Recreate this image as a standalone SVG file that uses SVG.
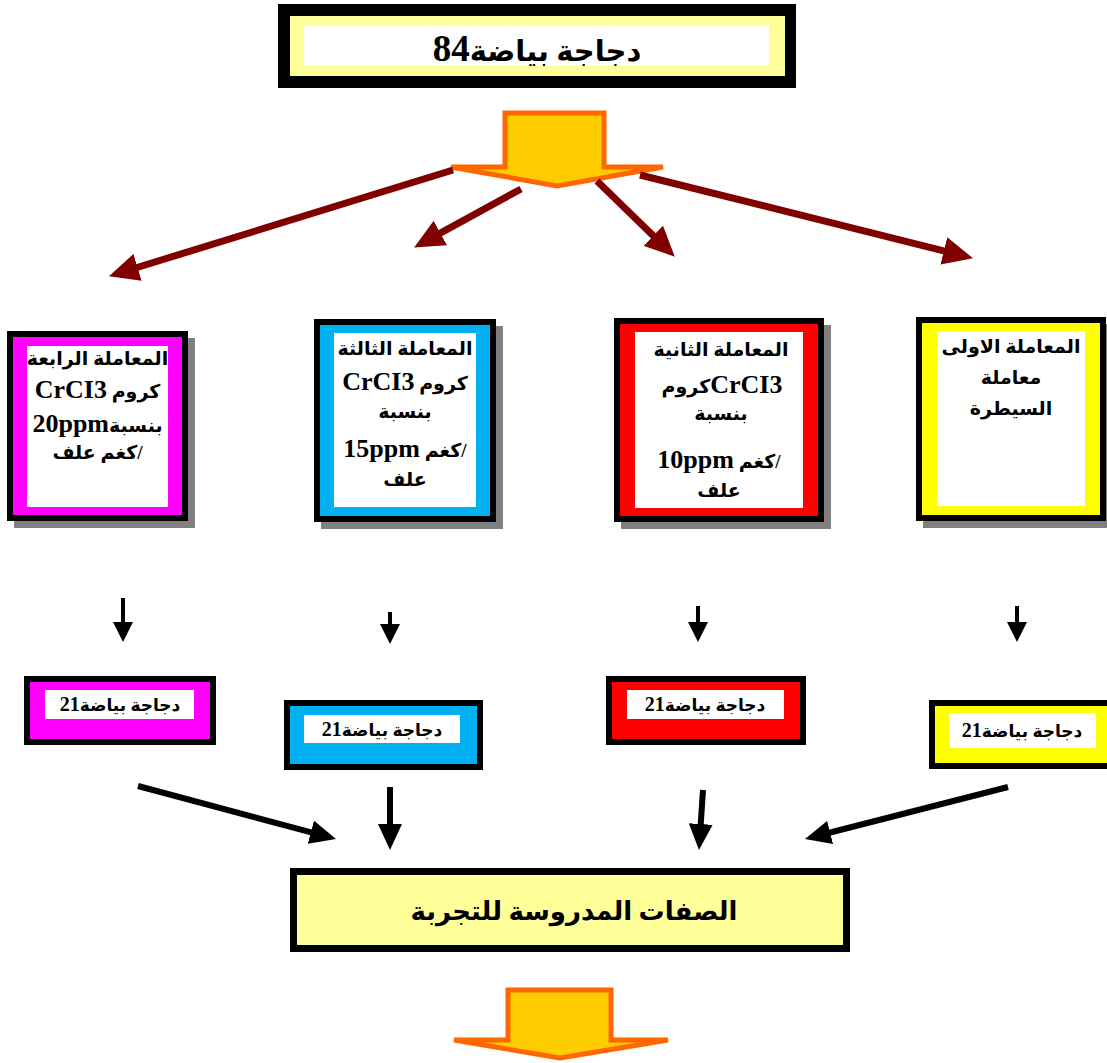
<svg xmlns="http://www.w3.org/2000/svg" width="1107" height="1063" viewBox="0 0 1107 1063">
<style>
.t{font-family:"Liberation Serif","DejaVu Sans",serif;font-weight:bold;text-anchor:middle;fill:#000}
.lat{font-size:26px}
.bt{font-size:19px}
.sm{font-size:17px}
.smd{font-size:20px}
.shadow{fill:#808080}
.blk{fill:#000}
.wht{fill:#fff}
.red{stroke:#800000;stroke-width:7;fill:none}
.k6{stroke:#000;stroke-width:6;fill:none}
.k4{stroke:#000;stroke-width:4;fill:none}
.blockarrow{fill:#FFCC00;stroke:#FF6600;stroke-width:5;stroke-linejoin:miter}
</style>
<defs>
<marker id="ahRed" markerUnits="userSpaceOnUse" viewBox="0 0 30 28" markerWidth="30" markerHeight="28" refX="9" refY="14" orient="auto"><path d="M0,0 L30,14 L0,28 z" fill="#800000"/></marker>
<marker id="ahBlk" markerUnits="userSpaceOnUse" viewBox="0 0 26 24" markerWidth="26" markerHeight="24" refX="8" refY="12" orient="auto"><path d="M0,0 L26,12 L0,24 z" fill="#000"/></marker>
<marker id="ahSm" markerUnits="userSpaceOnUse" viewBox="0 0 20 20" markerWidth="20" markerHeight="20" refX="6" refY="10" orient="auto"><path d="M0,0 L20,10 L0,20 z" fill="#000"/></marker>
</defs>
<rect width="1107" height="1063" fill="#fff"/>

<g id="top-node">
<rect x="278" y="4" width="518" height="84" class="blk"/>
<rect x="290" y="16" width="495" height="60" fill="#FFFF99"/>
<rect x="304" y="26" width="465" height="40" class="wht"/>
<text x="537" y="61" class="t" direction="rtl" font-size="29">دجاجة بياضة<tspan font-size="37">84</tspan></text>
</g>

<g id="top-block-arrow">
<polygon class="blockarrow" points="505,113 604,113 604,167 663,167 557,186 451,167 505,167"/>
</g>

<g id="connectors">
<line class="red" x1="453" y1="170" x2="129" y2="270" marker-end="url(#ahRed)"/>
<line class="red" x1="521" y1="189" x2="432.5" y2="237.4" marker-end="url(#ahRed)"/>
<line class="red" x1="597" y1="181" x2="659.7" y2="242" marker-end="url(#ahRed)"/>
<line class="red" x1="640" y1="175" x2="952.6" y2="253.1" marker-end="url(#ahRed)"/>

<line class="k4" x1="123" y1="598" x2="123" y2="628" marker-end="url(#ahSm)"/>
<line class="k4" x1="390" y1="612" x2="390" y2="630" marker-end="url(#ahSm)"/>
<line class="k4" x1="698" y1="606" x2="698" y2="628" marker-end="url(#ahSm)"/>
<line class="k4" x1="1017" y1="606" x2="1017" y2="628" marker-end="url(#ahSm)"/>

<line class="k6" x1="138" y1="786" x2="318.6" y2="834.3" marker-end="url(#ahBlk)"/>
<line class="k6" x1="390" y1="787" x2="390" y2="832" marker-end="url(#ahBlk)"/>
<line class="k6" x1="703" y1="790" x2="700.2" y2="832" marker-end="url(#ahBlk)"/>
<line class="k6" x1="1008" y1="787" x2="822.4" y2="834.5" marker-end="url(#ahBlk)"/>
</g>

<g id="treatment-4">
<rect x="14" y="338" width="181" height="190" class="shadow"/>
<rect x="7" y="331" width="181" height="190" class="blk"/>
<rect x="13" y="337" width="169" height="178" fill="#FF00FF"/>
<rect x="27" y="346" width="141" height="161" class="wht"/>
<text class="t bt" direction="rtl" x="97.5" y="365">المعاملة الرابعة</text>
<text class="t bt" direction="rtl" x="97.5" y="398">كروم <tspan class="lat">CrCI3</tspan></text>
<text class="t bt" direction="rtl" x="97.5" y="432">بنسبة<tspan class="lat">20ppm</tspan></text>
<text class="t bt" direction="rtl" x="97.5" y="459">/كغم علف</text>
</g>

<g id="treatment-3">
<rect x="321" y="326" width="182" height="203" class="shadow"/>
<rect x="314" y="319" width="182" height="203" class="blk"/>
<rect x="320" y="325" width="170" height="191" fill="#00B0F0"/>
<rect x="334" y="333" width="142" height="174" class="wht"/>
<text class="t bt" direction="rtl" x="405" y="355">المعاملة الثالثة</text>
<text class="t bt" direction="rtl" x="405" y="390">كروم <tspan class="lat">CrCI3</tspan></text>
<text class="t bt" direction="rtl" x="405" y="418">بنسبة</text>
<text class="t bt" direction="rtl" x="405" y="457">/كغم <tspan class="lat">15ppm</tspan></text>
<text class="t bt" direction="rtl" x="405" y="486">علف</text>
</g>

<g id="treatment-2">
<rect x="621" y="325" width="210" height="204" class="shadow"/>
<rect x="614" y="318" width="210" height="204" class="blk"/>
<rect x="620" y="324" width="198" height="192" fill="#FF0000"/>
<rect x="635" y="332" width="168" height="176" class="wht"/>
<text class="t bt" direction="rtl" x="721" y="356">المعاملة الثانية</text>
<text class="t bt" direction="rtl" x="722" y="393"><tspan class="lat">CrCI3</tspan>كروم</text>
<text class="t bt" direction="rtl" x="721" y="420">بنسبة</text>
<text class="t bt" direction="rtl" x="719" y="468">/كغم <tspan class="lat">10ppm</tspan></text>
<text class="t bt" direction="rtl" x="719" y="497">علف</text>
</g>

<g id="treatment-1">
<rect x="923" y="324" width="190" height="204" class="shadow"/>
<rect x="916" y="317" width="190" height="204" class="blk"/>
<rect x="922" y="323" width="178" height="192" fill="#FFFF00"/>
<rect x="937" y="331" width="148" height="175" class="wht"/>
<text class="t bt" direction="rtl" x="1011" y="353">المعاملة الاولى</text>
<text class="t bt" direction="rtl" x="1011" y="384">معاملة</text>
<text class="t bt" direction="rtl" x="1011" y="415">السيطرة</text>
</g>

<g id="hens-4">
<rect x="24" y="676" width="192" height="69" class="blk"/>
<rect x="30" y="682" width="180" height="57" fill="#FF00FF"/>
<rect x="45" y="690" width="149" height="29" class="wht"/>
<text class="t sm" direction="rtl" x="120" y="711">دجاجة بياضة<tspan class="smd">21</tspan></text>
</g>

<g id="hens-3">
<rect x="284" y="700" width="199" height="70" class="blk"/>
<rect x="290" y="706" width="187" height="58" fill="#00B0F0"/>
<rect x="304" y="715" width="156" height="28" class="wht"/>
<text class="t sm" direction="rtl" x="382" y="736">دجاجة بياضة<tspan class="smd">21</tspan></text>
</g>

<g id="hens-2">
<rect x="606" y="676" width="200" height="69" class="blk"/>
<rect x="612" y="682" width="188" height="57" fill="#FF0000"/>
<rect x="627" y="690" width="157" height="29" class="wht"/>
<text class="t sm" direction="rtl" x="705" y="711">دجاجة بياضة<tspan class="smd">21</tspan></text>
</g>

<g id="hens-1">
<rect x="929" y="700" width="184" height="69" class="blk"/>
<rect x="935" y="706" width="172" height="57" fill="#FFFF00"/>
<rect x="949" y="713" width="147" height="35" class="wht"/>
<text class="t sm" direction="rtl" x="1022" y="737">دجاجة بياضة<tspan class="smd">21</tspan></text>
</g>

<g id="traits-node">
<rect x="293.5" y="871.5" width="553" height="77" fill="#FFFF99" stroke="#000" stroke-width="7"/>
<text class="t" direction="rtl" font-size="26" x="574" y="920">الصفات المدروسة للتجربة</text>
</g>

<g id="bottom-block-arrow">
<polygon class="blockarrow" points="508,990 611,990 611,1040 668,1040 560,1058 454,1040 508,1040"/>
</g>
</svg>
